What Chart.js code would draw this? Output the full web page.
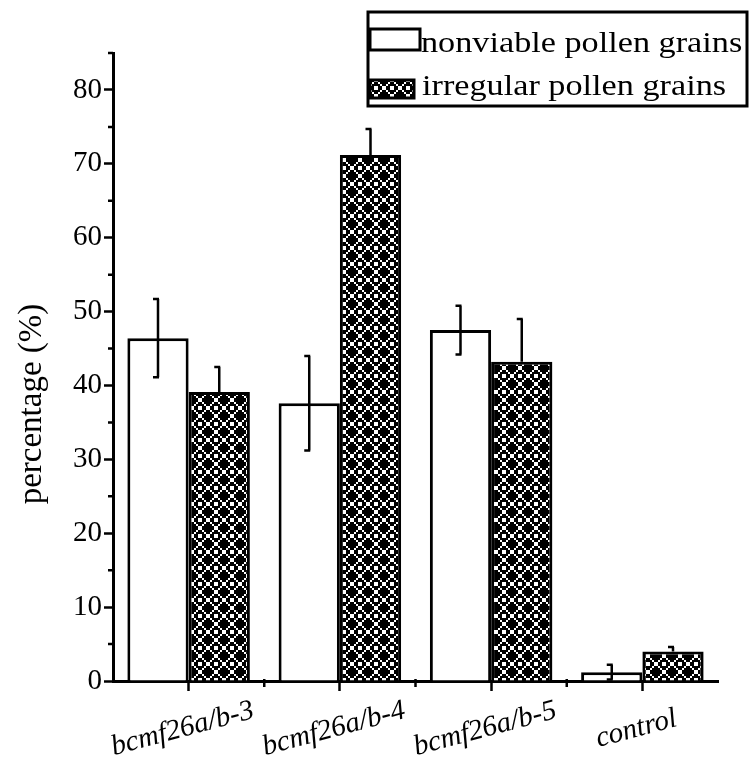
<!DOCTYPE html>
<html><head><meta charset="utf-8">
<script src="https://cdn.jsdelivr.net/npm/chart.js@4/dist/chart.umd.min.js"></script>
<style>html,body{margin:0;padding:0;background:#fff;}#wrap{width:749px;height:761px;position:relative;}</style>
</head><body>
<div id="wrap"><canvas id="c" width="749" height="761"></canvas></div>
<script>
const categories = ['bcmf26a/b-3', 'bcmf26a/b-4', 'bcmf26a/b-5', 'control'];
const seriesNames = ['nonviable pollen grains', 'irregular pollen grains'];
const nonviable = [46.4, 37.6, 47.5, 1.2];
const nonviableErr = [5.3, 6.4, 3.3, 1.0];
const irregular = [39.1, 71.2, 43.2, 4.0];
const irregularErr = [3.4, 3.5, 5.8, 0.6];
const yTitle = 'percentage (%)';

const canvas = document.getElementById('c');
const ctx = canvas.getContext('2d');

function makePattern() {
  const rows = [
    "XXX..XXX",
    "XX.XX.XX",
    "X.XXXX.X",
    ".XX..XX.",
    ".XX..XX.",
    "X.XXXX.X",
    "XX.XX.XX",
    "XXX..XXX"
  ];
  const s = 2, n = rows.length;
  const c = document.createElement('canvas');
  c.width = c.height = n * s;
  const x = c.getContext('2d');
  x.fillStyle = '#fff'; x.fillRect(0, 0, c.width, c.height);
  x.fillStyle = '#000';
  rows.forEach((r, i) => [...r].forEach((ch, j) => { if (ch === 'X') x.fillRect(j * s, i * s, s, s); }));
  return ctx.createPattern(c, 'repeat');
}
const pattern = makePattern();
const SERIF = '"Liberation Serif"';

const decor = {
  id: 'decor',
  afterDatasetsDraw(chart) {
    const c = chart.ctx, ys = chart.scales.y;
    c.save();
    c.strokeStyle = '#000'; c.lineWidth = 2.5; c.lineCap = 'butt';
    [[0, nonviable, nonviableErr, true], [1, irregular, irregularErr, false]].forEach(([di, vals, errs, full]) => {
      chart.getDatasetMeta(di).data.forEach((bar, i) => {
        const x = bar.x;
        const top = ys.getPixelForValue(vals[i] + errs[i]);
        const bot = full ? ys.getPixelForValue(Math.max(0, vals[i] - errs[i])) : bar.y;
        c.beginPath();
        c.moveTo(x, top); c.lineTo(x, bot);
        c.moveTo(x - 5, top); c.lineTo(x + 1, top);
        if (full) { c.moveTo(x - 5, bot); c.lineTo(x + 1, bot); }
        c.stroke();
      });
    });
    c.restore();
  },
  afterDraw(chart) {
    const c = chart.ctx, ys = chart.scales.y, xs = chart.scales.x, area = chart.chartArea;
    c.save();
    c.strokeStyle = '#000'; c.fillStyle = '#000';
    c.lineWidth = 2.5;
    c.beginPath();
    for (let v = 5; v <= 85; v += 10) {
      const y = ys.getPixelForValue(v);
      c.moveTo(area.left - 5, y); c.lineTo(area.left, y);
    }
    for (let i = 0; i < categories.length - 1; i++) {
      const x = (xs.getPixelForValue(i) + xs.getPixelForValue(i + 1)) / 2;
      c.moveTo(x, area.bottom - 2); c.lineTo(x, area.bottom + 6);
    }
    c.stroke();
    c.font = 'italic 29px ' + SERIF;
    c.textAlign = 'center'; c.textBaseline = 'middle';
    categories.forEach((lab, i) => {
      const x = xs.getPixelForValue(i);
      c.save(); c.translate(x - 6, 729); c.rotate(-15 * Math.PI / 180);
      c.fillText(lab, 0, 0); c.restore();
    });
    c.font = '33px ' + SERIF;
    c.save(); c.translate(32, 404); c.rotate(-Math.PI / 2);
    c.fillText(yTitle, 0, 0); c.restore();
    c.lineWidth = 3;
    c.strokeRect(368, 12, 379, 94);
    c.fillStyle = '#fff'; c.fillRect(370, 29, 50, 21); c.strokeRect(370, 29, 50, 21);
    c.fillStyle = pattern; c.fillRect(370, 80, 44, 18); c.strokeRect(370, 80, 44, 18);
    c.fillStyle = '#000';
    c.textAlign = 'left'; c.textBaseline = 'alphabetic';
    c.font = '29px ' + SERIF;
    const sx = 1.18;
    c.save(); c.translate(421, 52); c.scale(sx, 1); c.fillText(seriesNames[0], 0, 0); c.restore();
    c.save(); c.translate(422, 95); c.scale(sx, 1); c.fillText(seriesNames[1], 0, 0); c.restore();
    c.restore();
  }
};

new Chart(ctx, {
  type: 'bar',
  data: {
    labels: categories,
    datasets: [
      { label: seriesNames[0], data: nonviable, backgroundColor: '#fff', borderColor: '#000', borderWidth: 3,
        categoryPercentage: 0.81, barPercentage: 1 },
      { label: seriesNames[1], data: irregular, backgroundColor: pattern, borderColor: '#000', borderWidth: 3,
        categoryPercentage: 0.81, barPercentage: 1 }
    ]
  },
  options: {
    responsive: false, animation: false, devicePixelRatio: 1,
    layout: { padding: { left: 0, right: 31, top: 53, bottom: 0 } },
    plugins: { legend: { display: false }, tooltip: { enabled: false } },
    scales: {
      x: {
        grid: { display: true, offset: false, drawOnChartArea: false, tickLength: 10, color: '#000', tickWidth: 2.5 },
        border: { color: '#000', width: 3 },
        ticks: { color: 'rgba(0,0,0,0)', autoSkip: false, maxRotation: 0, minRotation: 0 },
        afterFit(s) { s.height = 80; }
      },
      y: {
        min: 0, max: 85,
        ticks: { stepSize: 5, callback: v => (v % 10 === 0 ? v : ''), color: '#000',
          font: { family: SERIF, size: 29 }, padding: 2 },
        grid: { drawOnChartArea: false, tickLength: 9, tickWidth: 2.5,
          tickColor: c => (c.tick && c.tick.value % 10 === 0 ? '#000' : 'rgba(0,0,0,0)') },
        border: { color: '#000', width: 3 },
        afterFit(s) { s.width = 113; }
      }
    }
  },
  plugins: [decor]
});
</script>
</body></html>
